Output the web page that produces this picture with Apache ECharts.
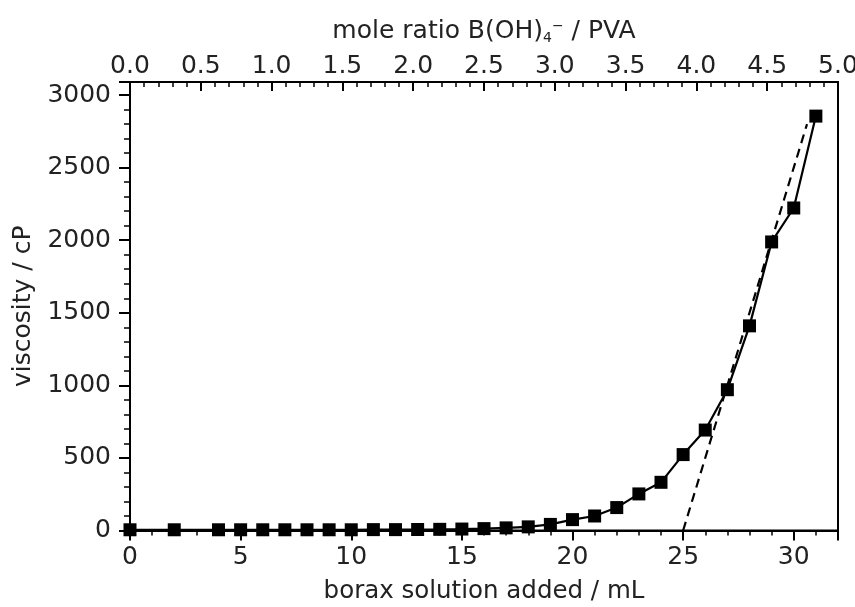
<!DOCTYPE html>
<html><head><meta charset="utf-8">
<script src="https://cdn.jsdelivr.net/npm/echarts@6/dist/echarts.min.js"></script>
<style>html,body{margin:0;padding:0;background:#fff}#c{width:855px;height:607px}</style>
</head><body><div id="c"></div>
<script>
const boraxML = [0,2,4,5,6,7,8,9,10,11,12,13,14,15,16,17,18,19,20,21,22,23,24,25,26,27,28,29,30,31];
const viscosity = [5,5,5,5,5,5,5,5,5,6,6,7,8,10,13,18,25,42,75,100,158,252,332,523,692,970,1410,1988,2222,2855];
const fitLineX = [25, 30.6];
const fitLineY = [0, 2800];
const yTicks = [0,500,1000,1500,2000,2500,3000];
const topTicks = [0.0,0.5,1.0,1.5,2.0,2.5,3.0,3.5,4.0,4.5,5.0];
const bottomTicks = [0,5,10,15,20,25,30];

const FONT = 'DejaVu Sans, sans-serif';
const TXT = '#222';
const chart = echarts.init(document.getElementById('c'), null, {renderer:'canvas'});
const axisLine = {show:true, lineStyle:{color:'#000', width:2}};
chart.setOption({
  animation:false,
  backgroundColor:'#fff',
  grid:{left:130, right:17, top:82, bottom:76.5, containLabel:false, outerBoundsMode:'none',
        show:true, borderColor:'#000', borderWidth:2, backgroundColor:'transparent'},
  xAxis:[{
    type:'value', min:0, max:32, interval:5, position:'bottom',
    name:'borax solution added / mL', nameLocation:'middle', nameGap:49,
    nameTextStyle:{fontFamily:FONT, fontSize:24.5, color:TXT},
    axisLine:axisLine,
    axisTick:{show:true, inside:false, length:10, lineStyle:{color:'#000', width:2}},
    minorTick:{show:true, splitNumber:5, length:5, lineStyle:{color:'#000', width:1.5}},
    axisLabel:{fontFamily:FONT, fontSize:25, color:TXT, margin:14,
      formatter:v=> bottomTicks.includes(v)? String(v): ''},
    splitLine:{show:false}
  },{
    type:'value', min:0, max:5, interval:0.5, position:'top',
    name:'mole ratio B(OH){sub|4}{sup|−} / PVA', nameLocation:'middle', nameGap:37,
    nameTextStyle:{fontFamily:FONT, fontSize:25, color:TXT,
      rich:{sub:{fontFamily:FONT, fontSize:14, color:TXT, padding:[14,0,0,0]},
            sup:{fontFamily:FONT, fontSize:14, color:TXT, padding:[0,0,10,0]}}},
    axisLine:axisLine,
    axisTick:{show:true, inside:true, length:9, lineStyle:{color:'#000', width:2}},
    minorTick:{show:true, splitNumber:5, length:5, lineStyle:{color:'#000', width:1.5}},
    axisLabel:{fontFamily:FONT, fontSize:25, color:TXT, margin:3,
      formatter:v=> topTicks.some(t=>Math.abs(t-v)<1e-9)? v.toFixed(1): ''},
    splitLine:{show:false}
  }],
  yAxis:[{
    type:'value', min:0, max:3090, interval:500,
    name:'viscosity / cP', nameLocation:'middle', nameGap:92,
    nameTextStyle:{fontFamily:FONT, fontSize:25, color:TXT},
    axisLine:axisLine,
    axisTick:{show:true, inside:false, length:11, lineStyle:{color:'#000', width:2}},
    minorTick:{show:true, splitNumber:5, length:6, lineStyle:{color:'#000', width:1.5}},
    axisLabel:{fontFamily:FONT, fontSize:25, color:TXT, margin:19,
      formatter:v=> yTicks.includes(v)? String(v): ''},
    splitLine:{show:false}
  }],
  series:[{
    type:'line', xAxisIndex:0, yAxisIndex:0,
    data: boraxML.map((x,i)=>[x, viscosity[i]]),
    symbol:'rect', symbolSize:13, showSymbol:true, clip:false,
    itemStyle:{color:'#000'},
    lineStyle:{color:'#000', width:2.2}
  },{
    type:'line', xAxisIndex:0, yAxisIndex:0,
    data: fitLineX.map((x,i)=>[x, fitLineY[i]]),
    symbol:'none',
    lineStyle:{color:'#000', width:2.2, type:[9,6]}
  }]
});
</script></body></html>
